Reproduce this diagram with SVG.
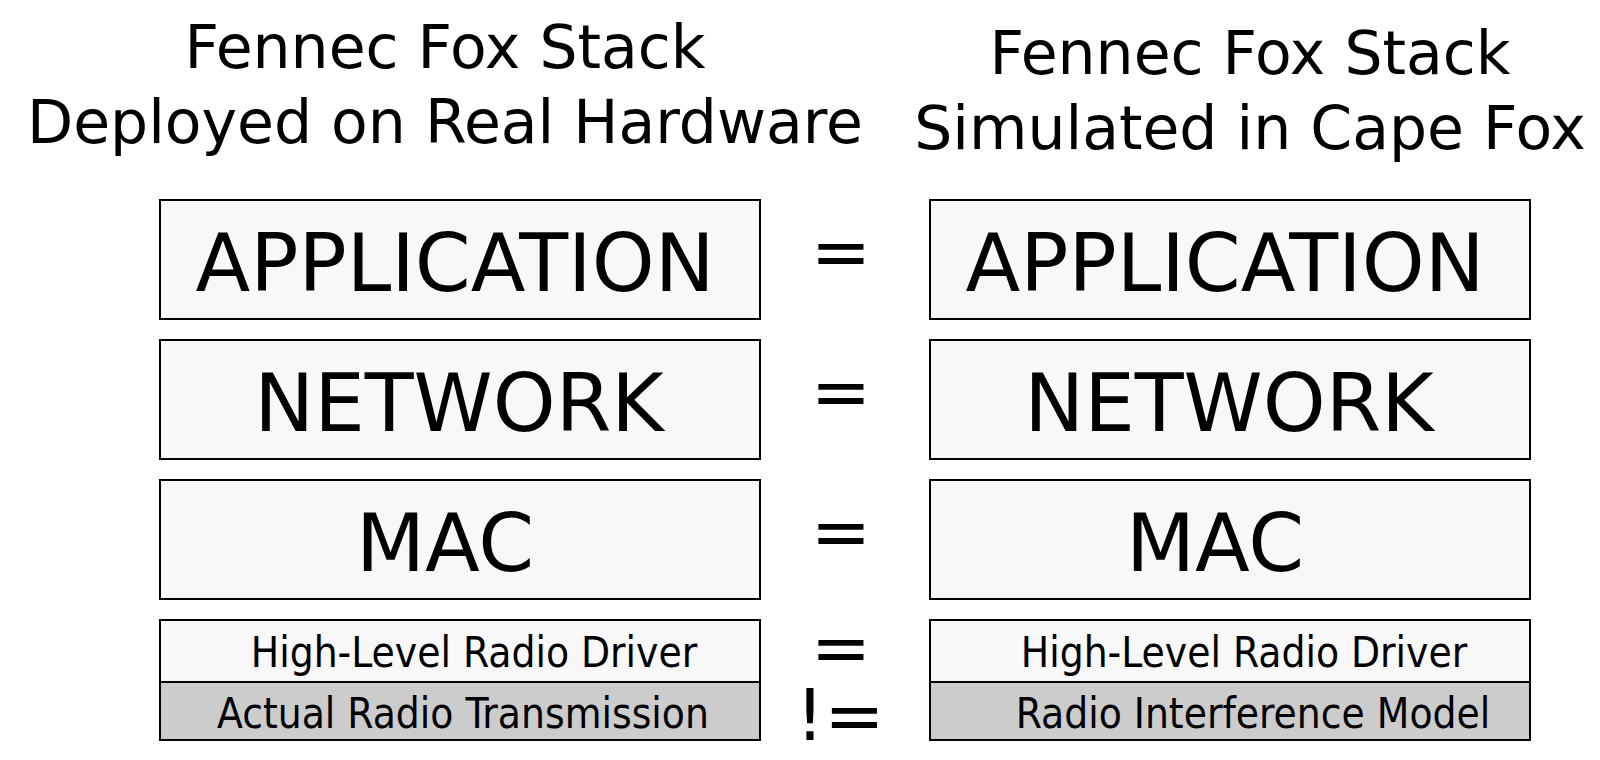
<svg xmlns="http://www.w3.org/2000/svg" width="1600" height="760" viewBox="0 0 1600 760">
<style>
.title{font-family:"DejaVu Sans",sans-serif;font-size:60px;fill:#000;text-anchor:middle}
.big{font-family:"DejaVu Sans",sans-serif;font-size:80px;fill:#000;text-anchor:middle}
.small{font-family:"DejaVu Sans Condensed","DejaVu Sans",sans-serif;font-size:42px;fill:#000;text-anchor:middle}
.eq{font-family:"DejaVu Sans",sans-serif;font-size:72px;fill:#000;text-anchor:middle}
.box{fill:#f8f8f8;stroke:#000;stroke-width:2}
.grey{fill:#cccccc;stroke:#000;stroke-width:2}
</style>
<rect width="1600" height="760" fill="#fff"/>
<g id="title-left">
<text class="title" x="445" y="68">Fennec Fox Stack</text>
<text class="title" x="445" y="143">Deployed on Real Hardware</text>
</g>
<g id="title-right">
<text class="title" x="1250" y="74">Fennec Fox Stack</text>
<text class="title" x="1250" y="149">Simulated in Cape Fox</text>
</g>
<g id="left-application"><rect class="box" x="160" y="200" width="600" height="119"/><text class="big" x="455" y="291">APPLICATION</text></g>
<g id="left-network"><rect class="box" x="160" y="340" width="600" height="119"/><text class="big" x="459" y="431">NETWORK</text></g>
<g id="left-mac"><rect class="box" x="160" y="480" width="600" height="119"/><text class="big" x="445" y="571">MAC</text></g>
<g id="left-driver"><rect class="box" x="160" y="620" width="600" height="62"/><text class="small" x="474" y="667">High-Level Radio Driver</text></g>
<g id="left-radio"><rect class="grey" x="160" y="682" width="600" height="58"/><text class="small" x="463" y="728">Actual Radio Transmission</text></g>
<g id="right-application"><rect class="box" x="930" y="200" width="600" height="119"/><text class="big" x="1225" y="291">APPLICATION</text></g>
<g id="right-network"><rect class="box" x="930" y="340" width="600" height="119"/><text class="big" x="1229" y="431">NETWORK</text></g>
<g id="right-mac"><rect class="box" x="930" y="480" width="600" height="119"/><text class="big" x="1215" y="571">MAC</text></g>
<g id="right-driver"><rect class="box" x="930" y="620" width="600" height="62"/><text class="small" x="1244" y="667">High-Level Radio Driver</text></g>
<g id="right-radio"><rect class="grey" x="930" y="682" width="600" height="58"/><text class="small" x="1253" y="728">Radio Interference Model</text></g>
<g id="connectors">
<text class="eq" x="841" y="276">=</text>
<text class="eq" x="841" y="416">=</text>
<text class="eq" x="841" y="556">=</text>
<text class="eq" x="841" y="672">=</text>
<text class="eq" x="840" y="740">!=</text>
</g>
</svg>
